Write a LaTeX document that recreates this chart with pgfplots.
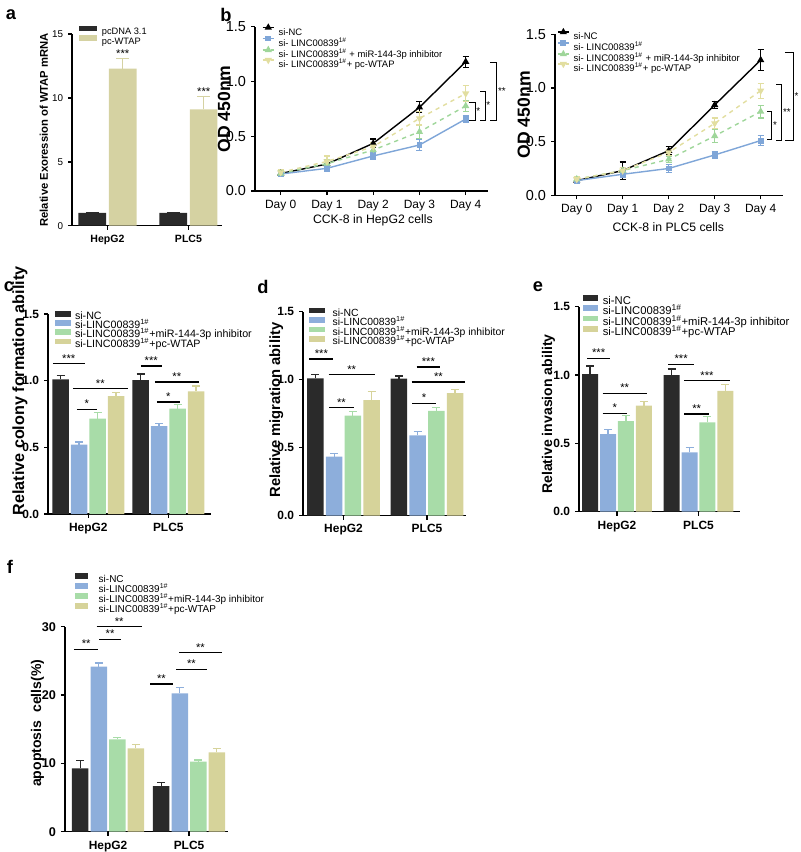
\documentclass[border=0pt]{standalone}
\usepackage{pgfplots}
\pgfplotsset{compat=1.18}
\usepackage{fontspec}
\setmainfont{Liberation Sans}
\newcommand{\fs}[1]{\fontsize{#1}{#1}\selectfont}
\definecolor{cNC}{HTML}{2A2A2A}
\definecolor{cBL}{HTML}{8DAEDB}
\definecolor{cGR}{HTML}{A8DCA8}
\definecolor{cYE}{HTML}{D6D39A}
\definecolor{cWT}{HTML}{D5D2A2}
\definecolor{lBL}{HTML}{7FA6D8}
\definecolor{lGR}{HTML}{9FD69A}
\definecolor{lYE}{HTML}{E2DEA0}
\pgfplotsset{
 gp/.style={scale only axis, anchor=south west, axis x line*=bottom, axis y line*=left,
   axis line style={line width=1pt}, every tick/.style={line width=1pt, black},
   major tick length=1mm, tick align=outside, clip=false,
   /pgf/number format/assume math mode=true, legend cell align=left},
 dec1/.style={yticklabel style={/pgf/number format/fixed, /pgf/number format/fixed zerofill, /pgf/number format/precision=1}},
 barleg/.style={legend image code/.code={\fill[##1] (0mm,0.1mm) rectangle (#1,1.5mm);}},
 lineleg/.style={legend image code/.code={\draw[##1, mark repeat=2, mark phase=2] plot coordinates {(0mm,0.9mm) (1.4mm,0.9mm) (2.8mm,0.9mm)};}},
 leg/.style n args={5}{legend style={at={(#1,#2)}, anchor=north west, draw=none, fill=none, font=\fs{#3}, inner sep=0pt, outer sep=0pt, row sep=0pt,
   nodes={inner sep=0pt, text height=#4, text depth=0.6pt}, /tikz/every odd column/.append style={column sep=#5}}},
 be/.style n args={2}{error bars/y dir=plus, error bars/y explicit, error bars/error bar style={line width=0.9pt, draw=#1},
   error bars/error mark options={rotate=90, line width=0.9pt, draw=#1, mark size=#2}},
 le/.style={error bars/y dir=both, error bars/y explicit, error bars/error bar style={line width=0.8pt, solid},
   error bars/error mark options={rotate=90, line width=0.8pt, solid, mark size=0.75mm}},
 bars/.style={ybar, bar width=#1, bar shift=0pt, draw=none},
}
\newcommand{\sig}[4]{\draw[line width=0.9pt] (axis cs:#1,#3) -- (axis cs:#2,#3) node[midway, anchor=base, yshift=0.4mm, inner sep=0pt, font=\fs{8}] {#4};}
\newcommand{\brk}[5]{\draw[line width=0.7pt] (axis cs:#1,#3) -- (axis cs:#2,#3) -- (axis cs:#2,#4) -- (axis cs:#1,#4);
  \node[font=\fs{7}, anchor=west, inner sep=0.8pt] at (axis cs:#2,{(#3+#4)/2}) {#5};}
\begin{document}
\begin{tikzpicture}
\useasboundingbox (0,0) rectangle (200mm,-213mm);
% panel letters
\node[font=\bfseries\fs{13}] at (11*0.25mm,-15*0.25mm) {a};
\node[font=\bfseries\fs{13}] at (226*0.25mm,-15*0.25mm) {b};
\node[font=\bfseries\fs{13}] at (9*0.25mm,-287*0.25mm) {c};
\node[font=\bfseries\fs{13}] at (263*0.25mm,-287*0.25mm) {d};
\node[font=\bfseries\fs{13}] at (538*0.25mm,-287*0.25mm) {e};
\node[font=\bfseries\fs{13}] at (10*0.25mm,-567*0.25mm) {f};

% ---------------- panel a
\begin{axis}[gp, at={(18mm,-56.425mm)}, width=37.5mm, height=47.925mm,
  xmin=-0.438, xmax=1.414, ymin=0, ymax=15,
  xtick={0,1}, xticklabels={HepG2,PLC5}, ytick={0,5,10,15},
  xticklabel style={font=\bfseries\fs{7.5}}, yticklabel style={font=\fs{7}},
  ylabel={Relative Exoression of WTAP mRNA},
  ylabel style={font=\bfseries\fs{8}, at={(axis description cs:-0.187,0.5)}, anchor=center},
  barleg=4.5mm, leg={0.047}{1.044}{6.6}{4.6pt}{1.2mm}]
\addplot[bars=6.9mm, fill=cNC, be={cNC}{1.6mm}] coordinates {(-0.188,1.0) +- (0,0.05) (0.812,1.0) +- (0,0.06)};
\addlegendentry{pcDNA 3.1}
\addplot[bars=6.9mm, fill=cWT, be={cWT}{1.6mm}] coordinates {(0.188,12.3) +- (0,0.8) (1.188,9.1) +- (0,1.0)};
\addlegendentry{pc-WTAP}
\node[font=\fs{8}, anchor=base, inner sep=0pt, yshift=0.3mm] at (axis cs:0.188,13.1) {***};
\node[font=\fs{8}, anchor=base, inner sep=0pt, yshift=0.3mm] at (axis cs:1.188,10.1) {***};
\end{axis}

% ---------------- panel b left
\begin{axis}[gp, at={(63.75mm,-47.75mm)}, width=58.25mm, height=41.075mm,
  xmin=-0.556, xmax=4.482, ymin=0, ymax=1.5, dec1,
  xtick={0,1,2,3,4}, xticklabels={Day 0,Day 1,Day 2,Day 3,Day 4}, ytick={0,0.5,1,1.5},
  xticklabel style={font=\fs{8.5}}, yticklabel style={font=\fs{10.3}},
  ylabel={OD 450nm}, xlabel={CCK-8 in HepG2 cells},
  ylabel style={font=\bfseries\fs{12.5}, at={(axis description cs:-0.133,0.5)}, anchor=center},
  xlabel style={font=\fs{8.7}, at={(axis description cs:0.506,-0.177)}, anchor=center},
  lineleg, leg={0.030}{1.012}{6.7}{6.6pt}{1mm}]
\addplot[black, line width=1pt, mark=triangle*, mark size=2pt, le] coordinates {(0,0.16) +- (0,0.02) (1,0.246) +- (0,0.045) (2,0.435) +- (0,0.04) (3,0.764) +- (0,0.05) (4,1.18) +- (0,0.05)};
\addlegendentry{si-NC}
\addplot[lBL, line width=1pt, mark=square*, mark size=1.6pt, le] coordinates {(0,0.155) +- (0,0.02) (1,0.207) +- (0,0.03) (2,0.32) +- (0,0.03) (3,0.42) +- (0,0.05) (4,0.657) +- (0,0.03)};
\addlegendentry{si- LINC00839\textsuperscript{1\#}}
\addplot[lGR, line width=1pt, dashed, mark=triangle*, mark size=2pt, mark options={solid}, le] coordinates {(0,0.16) +- (0,0.03) (1,0.25) +- (0,0.04) (2,0.374) +- (0,0.04) (3,0.54) +- (0,0.06) (4,0.776) +- (0,0.05)};
\addlegendentry{si- LINC00839\textsuperscript{1\#} + miR-144-3p inhibitor}
\addplot[lYE, line width=1pt, dashed, mark=triangle*, mark size=2pt, mark options={solid, rotate=180}, le] coordinates {(0,0.17) +- (0,0.03) (1,0.27) +- (0,0.05) (2,0.405) +- (0,0.04) (3,0.663) +- (0,0.06) (4,0.89) +- (0,0.07)};
\addlegendentry{si- LINC00839\textsuperscript{1\#}+ pc-WTAP}
\brk{4.078}{4.201}{0.806}{0.648}{*}
\brk{4.309}{4.417}{0.912}{0.648}{*}
\brk{4.525}{4.67}{1.17}{0.648}{**}
\end{axis}

% ---------------- panel b right
\begin{axis}[gp, at={(138.75mm,-48.825mm)}, width=57mm, height=40.25mm,
  xmin=-0.472, xmax=4.485, ymin=0, ymax=1.5, dec1,
  xtick={0,1,2,3,4}, xticklabels={Day 0,Day 1,Day 2,Day 3,Day 4}, ytick={0,0.5,1,1.5},
  xticklabel style={font=\fs{8.5}}, yticklabel style={font=\fs{10.3}},
  ylabel={OD 450nm}, xlabel={CCK-8 in PLC5 cells},
  ylabel style={font=\bfseries\fs{12.5}, at={(axis description cs:-0.137,0.5)}, anchor=center},
  xlabel style={font=\fs{8.7}, at={(axis description cs:0.497,-0.195)}, anchor=center},
  lineleg, leg={0.009}{1.031}{6.8}{6.3pt}{1mm}]
\addplot[black, line width=1pt, mark=triangle*, mark size=2pt, le] coordinates {(0,0.137) +- (0,0.02) (1,0.23) +- (0,0.08) (2,0.416) +- (0,0.04) (3,0.842) +- (0,0.035) (4,1.26) +- (0,0.1)};
\addlegendentry{si-NC}
\addplot[lBL, line width=1pt, mark=square*, mark size=1.6pt, le] coordinates {(0,0.137) +- (0,0.02) (1,0.196) +- (0,0.03) (2,0.25) +- (0,0.04) (3,0.376) +- (0,0.03) (4,0.51) +- (0,0.05)};
\addlegendentry{si- LINC00839\textsuperscript{1\#}}
\addplot[lGR, line width=1pt, dashed, mark=triangle*, mark size=2pt, mark options={solid}, le] coordinates {(0,0.15) +- (0,0.02) (1,0.23) +- (0,0.03) (2,0.335) +- (0,0.03) (3,0.553) +- (0,0.06) (4,0.78) +- (0,0.06)};
\addlegendentry{si- LINC00839\textsuperscript{1\#} + miR-144-3p inhibitor}
\addplot[lYE, line width=1pt, dashed, mark=triangle*, mark size=2pt, mark options={solid, rotate=180}, le] coordinates {(0,0.15) +- (0,0.02) (1,0.23) +- (0,0.03) (2,0.4) +- (0,0.03) (3,0.67) +- (0,0.05) (4,0.975) +- (0,0.07)};
\addlegendentry{si- LINC00839\textsuperscript{1\#}+ pc-WTAP}
\brk{4.143}{4.239}{0.78}{0.522}{*}
\brk{4.333}{4.457}{1.028}{0.515}{**}
\brk{4.528}{4.709}{1.329}{0.515}{*}
\end{axis}

% ---------------- panel c
\begin{axis}[gp, at={(12mm,-128.5mm)}, width=40.75mm, height=50mm,
  xmin=-0.504, xmax=1.534, ymin=0, ymax=1.5, dec1,
  xtick={0,1}, xticklabels={HepG2,PLC5}, ytick={0,0.5,1,1.5},
  xticklabel style={font=\bfseries\fs{8.5}}, yticklabel style={font=\bfseries\fs{8.5}},
  ylabel={Relative colony formation ability},
  ylabel style={font=\bfseries\fs{11.5}, at={(axis description cs:-0.172,0.615)}, anchor=center},
  barleg=4mm, leg={0.043}{1.015}{7.6}{4.0pt}{1mm}]
\addplot[bars=4.125mm, fill=cNC, be={cNC}{1mm}] coordinates {(-0.347,1.01) +- (0,0.03) (0.653,1.005) +- (0,0.045)};
\addlegendentry{si-NC}
\addplot[bars=4.125mm, fill=cBL, be={cBL}{1mm}] coordinates {(-0.116,0.52) +- (0,0.02) (0.884,0.66) +- (0,0.02)};
\addlegendentry{si-LINC00839\textsuperscript{1\#}}
\addplot[bars=4.125mm, fill=cGR, be={cGR}{1mm}] coordinates {(0.116,0.715) +- (0,0.045) (1.116,0.79) +- (0,0.03)};
\addlegendentry{si-LINC00839\textsuperscript{1\#}+miR-144-3p inhibitor}
\addplot[bars=4.125mm, fill=cYE, be={cYE}{1mm}] coordinates {(0.347,0.885) +- (0,0.025) (1.347,0.92) +- (0,0.04)};
\addlegendentry{si-LINC00839\textsuperscript{1\#}+pc-WTAP}
\sig{-0.444}{-0.044}{1.128}{***}
\sig{-0.194}{0.494}{0.94}{**}
\sig{-0.144}{0.106}{0.785}{*}
\sig{0.656}{0.919}{1.11}{***}
\sig{0.831}{1.381}{0.99}{**}
\sig{0.856}{1.144}{0.84}{*}
\end{axis}

% ---------------- panel d
\begin{axis}[gp, at={(75.75mm,-128.875mm)}, width=40.75mm, height=50.95mm,
  xmin=-0.485, xmax=1.467, ymin=0, ymax=1.5, dec1,
  xtick={0,1}, xticklabels={HepG2,PLC5}, ytick={0,0.5,1,1.5},
  xticklabel style={font=\bfseries\fs{8.5}}, yticklabel style={font=\bfseries\fs{8.5}},
  ylabel={Relative migration ability},
  ylabel style={font=\bfseries\fs{10.5}, at={(axis description cs:-0.164,0.518)}, anchor=center},
  barleg=4mm, leg={0.037}{1.02}{7.4}{4.4pt}{1.9mm}]
\addplot[bars=4.125mm, fill=cNC, be={cNC}{1mm}] coordinates {(-0.336,1.01) +- (0,0.026) (0.664,1.007) +- (0,0.02)};
\addlegendentry{si-NC}
\addplot[bars=4.125mm, fill=cBL, be={cBL}{1mm}] coordinates {(-0.112,0.434) +- (0,0.02) (0.888,0.59) +- (0,0.03)};
\addlegendentry{si-LINC00839\textsuperscript{1\#}}
\addplot[bars=4.125mm, fill=cGR, be={cGR}{1mm}] coordinates {(0.112,0.735) +- (0,0.03) (1.112,0.77) +- (0,0.025)};
\addlegendentry{si-LINC00839\textsuperscript{1\#}+miR-144-3p inhibitor}
\addplot[bars=4.125mm, fill=cYE, be={cYE}{1mm}] coordinates {(0.336,0.85) +- (0,0.065) (1.336,0.90) +- (0,0.027)};
\addlegendentry{si-LINC00839\textsuperscript{1\#}+pc-WTAP}
\sig{-0.41}{-0.12}{1.151}{***}
\sig{-0.177}{0.373}{1.037}{**}
\sig{-0.169}{0.12}{0.793}{**}
\sig{0.876}{1.157}{1.093}{***}
\sig{0.816}{1.458}{0.983}{**}
\sig{0.823}{1.108}{0.824}{*}
\end{axis}

% ---------------- panel e
\begin{axis}[gp, at={(144.75mm,-127.925mm)}, width=40.25mm, height=51.25mm,
  xmin=-0.466, xmax=1.509, ymin=0, ymax=1.5, dec1,
  xtick={0,1}, xticklabels={HepG2,PLC5}, ytick={0,0.5,1,1.5},
  xticklabel style={font=\bfseries\fs{8.5}}, yticklabel style={font=\bfseries\fs{8.5}},
  ylabel={Relative invasion ability},
  ylabel style={font=\bfseries\fs{10}, at={(axis description cs:-0.19,0.476)}, anchor=center},
  barleg=3.75mm, leg={0.025}{1.057}{8}{5.6pt}{1.2mm}]
\addplot[bars=4mm, fill=cNC, be={cNC}{1mm}] coordinates {(-0.331,1.007) +- (0,0.06) (0.669,1.0) +- (0,0.044)};
\addlegendentry{si-NC}
\addplot[bars=4mm, fill=cBL, be={cBL}{1mm}] coordinates {(-0.110,0.568) +- (0,0.034) (0.890,0.434) +- (0,0.036)};
\addlegendentry{si-LINC00839\textsuperscript{1\#}}
\addplot[bars=4mm, fill=cGR, be={cGR}{1mm}] coordinates {(0.110,0.663) +- (0,0.04) (1.110,0.654) +- (0,0.04)};
\addlegendentry{si-LINC00839\textsuperscript{1\#}+miR-144-3p inhibitor}
\addplot[bars=4mm, fill=cYE, be={cYE}{1mm}] coordinates {(0.331,0.776) +- (0,0.03) (1.331,0.885) +- (0,0.047)};
\addlegendentry{si-LINC00839\textsuperscript{1\#}+pc-WTAP}
\sig{-0.364}{-0.086}{1.122}{***}
\sig{-0.175}{0.364}{0.866}{**}
\sig{-0.175}{0.119}{0.72}{*}
\sig{0.629}{0.945}{1.078}{***}
\sig{0.822}{1.387}{0.958}{***}
\sig{0.822}{1.133}{0.715}{**}
\end{axis}

% ---------------- panel f
\begin{axis}[gp, at={(16.25mm,-207.925mm)}, width=40.75mm, height=51.25mm,
  xmin=-0.531, xmax=1.481, ymin=0, ymax=30,
  xtick={0,1}, xticklabels={HepG2,PLC5}, ytick={0,10,20,30},
  xticklabel style={font=\bfseries\fs{8.5}}, yticklabel style={font=\bfseries\fs{9}},
  ylabel={apoptosis\ \ cells(\%)},
  ylabel style={font=\bfseries\fs{10}, at={(axis description cs:-0.169,0.529)}, anchor=center},
  barleg=3.25mm, leg={0.061}{1.262}{7.1}{5.3pt}{2.7mm}]
\addplot[bars=4.125mm, fill=cNC, be={cNC}{1mm}] coordinates {(-0.343,9.27) +- (0,1.2) (0.657,6.68) +- (0,0.5)};
\addlegendentry{si-NC}
\addplot[bars=4.125mm, fill=cBL, be={cBL}{1mm}] coordinates {(-0.114,24.15) +- (0,0.55) (0.886,20.24) +- (0,0.85)};
\addlegendentry{si-LINC00839\textsuperscript{1\#}}
\addplot[bars=4.125mm, fill=cGR, be={cGR}{1mm}] coordinates {(0.114,13.5) +- (0,0.3) (1.114,10.24) +- (0,0.25)};
\addlegendentry{si-LINC00839\textsuperscript{1\#}+miR-144-3p inhibitor}
\addplot[bars=4.125mm, fill=cYE, be={cYE}{1mm}] coordinates {(0.343,12.2) +- (0,0.6) (1.343,11.6) +- (0,0.6)};
\addlegendentry{si-LINC00839\textsuperscript{1\#}+pc-WTAP}
\sig{-0.42}{-0.12}{26.7}{**}
\sig{-0.107}{0.157}{28.16}{**}
\sig{-0.14}{0.416}{30.0}{**}
\sig{0.519}{0.799}{21.6}{**}
\sig{0.84}{1.219}{23.77}{**}
\sig{0.877}{1.404}{26.2}{**}
\end{axis}
\end{tikzpicture}
\end{document}
